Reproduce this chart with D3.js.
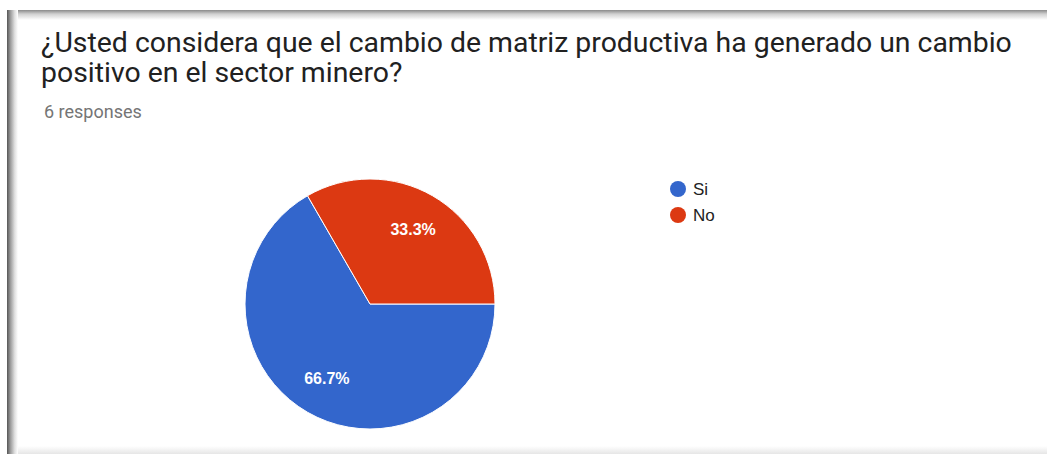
<!DOCTYPE html>
<html><head><meta charset="utf-8">
<script src="https://cdn.jsdelivr.net/npm/d3@7"></script>
<style>
html,body{margin:0;padding:0;background:#fff;}
svg{display:block;}
</style></head>
<body>
<svg id="chart" width="1047" height="454"></svg>
<script>
const categories = ["Si", "No"];
const values = [4, 2];
const colors = ["#3366cc", "#dc3912"];
const titleLines = ["¿Usted considera que el cambio de matriz productiva ha generado un cambio", "positivo en el sector minero?"];
const subtitle = "6 responses";

const svg = d3.select("#chart");
const defs = svg.append("defs");
const gl = defs.append("linearGradient").attr("id","gl").attr("x1","0").attr("x2","1").attr("y1","0").attr("y2","0");
gl.append("stop").attr("offset","0").attr("stop-color","#555555");
gl.append("stop").attr("offset","0.3").attr("stop-color","#999999");
gl.append("stop").attr("offset","0.7").attr("stop-color","#e0e0e0");
gl.append("stop").attr("offset","1").attr("stop-color","#ffffff");
const gt = defs.append("linearGradient").attr("id","gt").attr("x1","0").attr("x2","0").attr("y1","0").attr("y2","1");
gt.append("stop").attr("offset","0").attr("stop-color","#8a8a8a");
gt.append("stop").attr("offset","0.4").attr("stop-color","#d0d0d0");
gt.append("stop").attr("offset","1").attr("stop-color","#ffffff");
const gb = defs.append("linearGradient").attr("id","gb").attr("x1","0").attr("x2","0").attr("y1","0").attr("y2","1");
gb.append("stop").attr("offset","0").attr("stop-color","#ffffff");
gb.append("stop").attr("offset","1").attr("stop-color","#e6e6e6");

svg.append("rect").attr("x",0).attr("y",0).attr("width",1047).attr("height",454).attr("fill","#fff");
svg.append("rect").attr("x",7).attr("y",446).attr("width",1040).attr("height",8).attr("fill","url(#gb)");
svg.append("rect").attr("x",7).attr("y",10).attr("width",1040).attr("height",10).attr("fill","url(#gt)");
svg.append("rect").attr("x",7).attr("y",10).attr("width",11).attr("height",444).attr("fill","url(#gl)");

// title
const tg = svg.append("g").attr("font-family","Roboto, 'Noto Sans', sans-serif").attr("fill","#212121");
tg.selectAll("text").data(titleLines).join("text")
  .attr("x",41).attr("y",(d,i)=>52+i*30).attr("font-size",28.4).text(d=>d);
svg.append("text").attr("x",44).attr("y",118).attr("font-family","Roboto, sans-serif")
  .attr("font-size",18).attr("fill","#757575").text(subtitle);

// pie
const cx = 370, cy = 304, r = 125;
const pie = d3.pie().sort(null).startAngle(Math.PI/2).endAngle(Math.PI/2 + 2*Math.PI);
const arcs = pie(values);
const arc = d3.arc().innerRadius(0).outerRadius(r);
const labelArc = d3.arc().innerRadius(r*0.69).outerRadius(r*0.69);
const total = d3.sum(values);
const g = svg.append("g").attr("transform",`translate(${cx},${cy})`);
g.selectAll("path").data(arcs).join("path")
  .attr("d",arc).attr("fill",(d,i)=>colors[i]).attr("stroke","#fff").attr("stroke-width",1);
g.selectAll("text").data(arcs).join("text")
  .attr("transform",d=>`translate(${labelArc.centroid(d)})`)
  .attr("text-anchor","middle").attr("dy","0.36em")
  .attr("font-family","Arial, 'Liberation Sans', sans-serif").attr("font-size",16)
  .attr("font-weight","bold").attr("fill","#fff")
  .text(d=>(d.data/total*100).toFixed(1)+"%");

// legend
const lg = svg.append("g").attr("transform","translate(678,189)");
const items = lg.selectAll("g").data(categories).join("g").attr("transform",(d,i)=>`translate(0,${i*26})`);
items.append("circle").attr("r",8).attr("fill",(d,i)=>colors[i]);
items.append("text").attr("x",15).attr("dy","0.36em")
  .attr("font-family","Arial, 'Liberation Sans', sans-serif").attr("font-size",17)
  .attr("fill","#222").text(d=>d);
</script>
</body></html>
